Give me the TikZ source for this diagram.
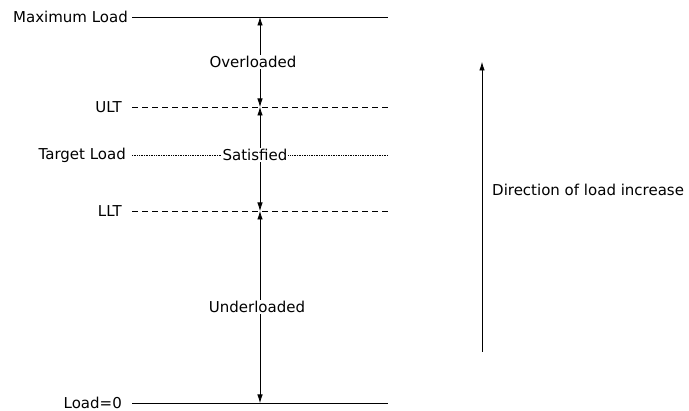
\documentclass[tikz,border=0pt]{standalone}
\usepackage{fontspec}
\setmainfont{DejaVu Sans}
\usepackage{tikz}
\usetikzlibrary{positioning,arrows.meta}
\tikzset{
  lvlname/.style={font=\fontsize{15}{17}\selectfont,anchor=east,inner sep=0pt},
  zonename/.style={font=\fontsize{15}{17}\selectfont,fill=white,inner sep=1pt},
  zonearrow/.style={{Latex[length=8.5pt,width=5.5pt]}-{Latex[length=8.5pt,width=5.5pt]},line width=0.7pt},
  lvlsolid/.style={solid},
  lvldash/.style={dash pattern=on 6pt off 4pt},
  lvldot/.style={densely dotted},
}

\begin{document}
\begin{tikzpicture}[x=1pt,y=-1pt]
  \useasboundingbox (0,0) rectangle (689,411);
  % load levels: name / text / label edge / row (pixels from top) / line style
  \foreach \lvl/\txt/\lx/\row/\sty in {
    max/Maximum Load/128/17/lvlsolid,
    ult/ULT/122/107/lvldash,
    tgt/Target Load/126/155/lvldot,
    llt/LLT/122/211/lvldash,
    zero/Load=0/122/403/lvlsolid} {
    \node[lvlname] (\lvl) at (\lx,\row) {\txt};
    \coordinate (\lvl-start) at (132,\row);
    \coordinate (\lvl-mid) at (260,\row);
    \coordinate (\lvl-end) at (388,\row);
    \draw[\sty,line width=0.7pt] (\lvl-start) -- (\lvl-end);
  }
  % zones between the levels (labels sit a little left of the arrow)
  \draw[zonearrow] (max-mid) -- node[zonename,xshift=-7pt] (over) {Overloaded} (ult-mid);
  \draw[zonearrow] (ult-mid) -- node[zonename,pos=0.46,xshift=-5pt] (sat) {Satisfied} (llt-mid);
  \draw[zonearrow] (llt-mid) -- node[zonename,xshift=-3pt] (under) {Underloaded} (zero-mid);
  % direction arrow on the right
  \coordinate (dirlow) at (482,352);
  \coordinate (dirhigh) at (482,62);
  \draw[-{Latex[length=8.5pt,width=5.5pt]},line width=0.7pt] (dirlow) -- (dirhigh);
  \node[font=\fontsize{15}{17}\selectfont,anchor=west,inner sep=0pt] (dirtxt) at (492,190) {Direction of load increase};
\end{tikzpicture}
\end{document}
